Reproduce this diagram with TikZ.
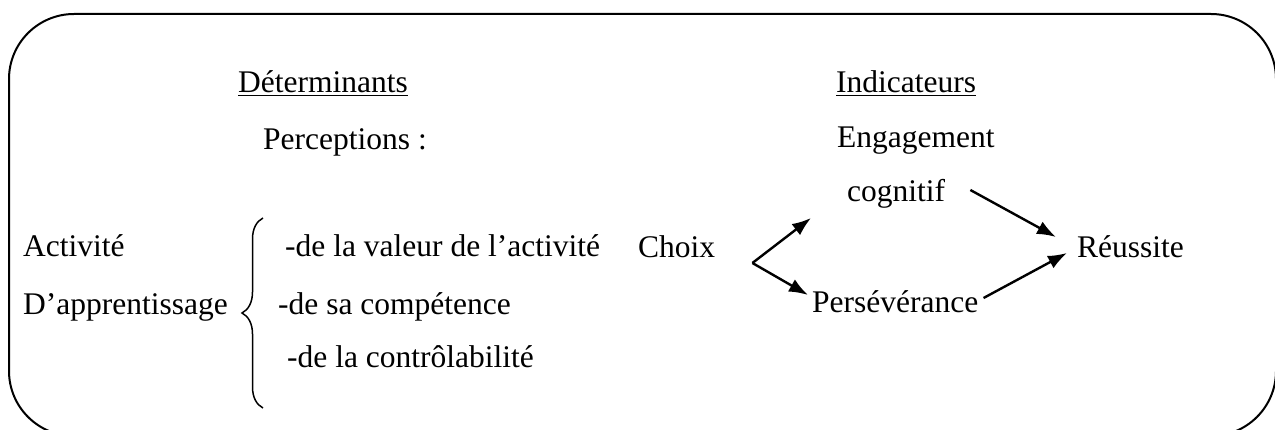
\documentclass[tikz,border=0pt]{standalone}
\usepackage{fontspec}
\setmainfont{Liberation Serif}
\usetikzlibrary{arrows.meta,decorations.pathreplacing}

\begin{document}
\begin{tikzpicture}[x=1pt, y=-1pt, >={Latex[length=19pt,width=14pt]},
                        txt/.style={anchor=base west, inner sep=0pt, font=\fontsize{31.5}{38}\selectfont},
                        pil/.style={->, line width=2.4pt}
                        ]
    \useasboundingbox (0,0) rectangle (1275,430);
    \clip (0,0) rectangle (1275,430);
    \draw[line width=2pt, rounded corners=65pt] (9,14) rectangle (1276,436);
    \node[txt] at (238,93) (det) {\underline{Déterminants}};
    \node[txt] at (836,93) (ind) {\underline{Indicateurs}};
    \node[txt] at (263,150) (perc) {Perceptions :};
    \node[txt] at (837,148) (eng) {Engagement};
    \node[txt] at (847,202) (cog) {cognitif};
    \node[txt] at (23,257) (act) {Activité};
    \node[txt] at (23,315) (app) {D’apprentissage};
    \node[txt] at (285,257) (v1) {-de la valeur de l’activité};
    \node[txt] at (278,315) (v2) {-de sa compétence};
    \node[txt] at (287,368) (v3) {-de la contrôlabilité};
    \node[txt] at (638,258) (choix) {Choix};
    \node[txt] at (812,313) (pers) {Persévérance};
    \node[txt] at (1077,258) (reus) {Réussite};
    \draw[line width=1.5pt, decorate, decoration={brace,amplitude=21pt}] (263,408) -- (263,218);
    \coordinate (fork) at ([xshift=37pt,yshift=-5pt]choix.base east);
    \draw[pil] (fork) -- ([xshift=-36pt,yshift=-16pt]cog.base west);
    \draw[pil] (fork) -- ([xshift=-4pt,yshift=18pt]pers.base west);
    \draw[pil] ([xshift=25pt,yshift=12pt]cog.base east) -- ([xshift=-21pt,yshift=21pt]reus.base west);
    \draw[pil] ([xshift=5pt,yshift=15pt]pers.base east) -- ([xshift=-10pt,yshift=5pt]reus.base west);
    \end{tikzpicture}
\end{document}
